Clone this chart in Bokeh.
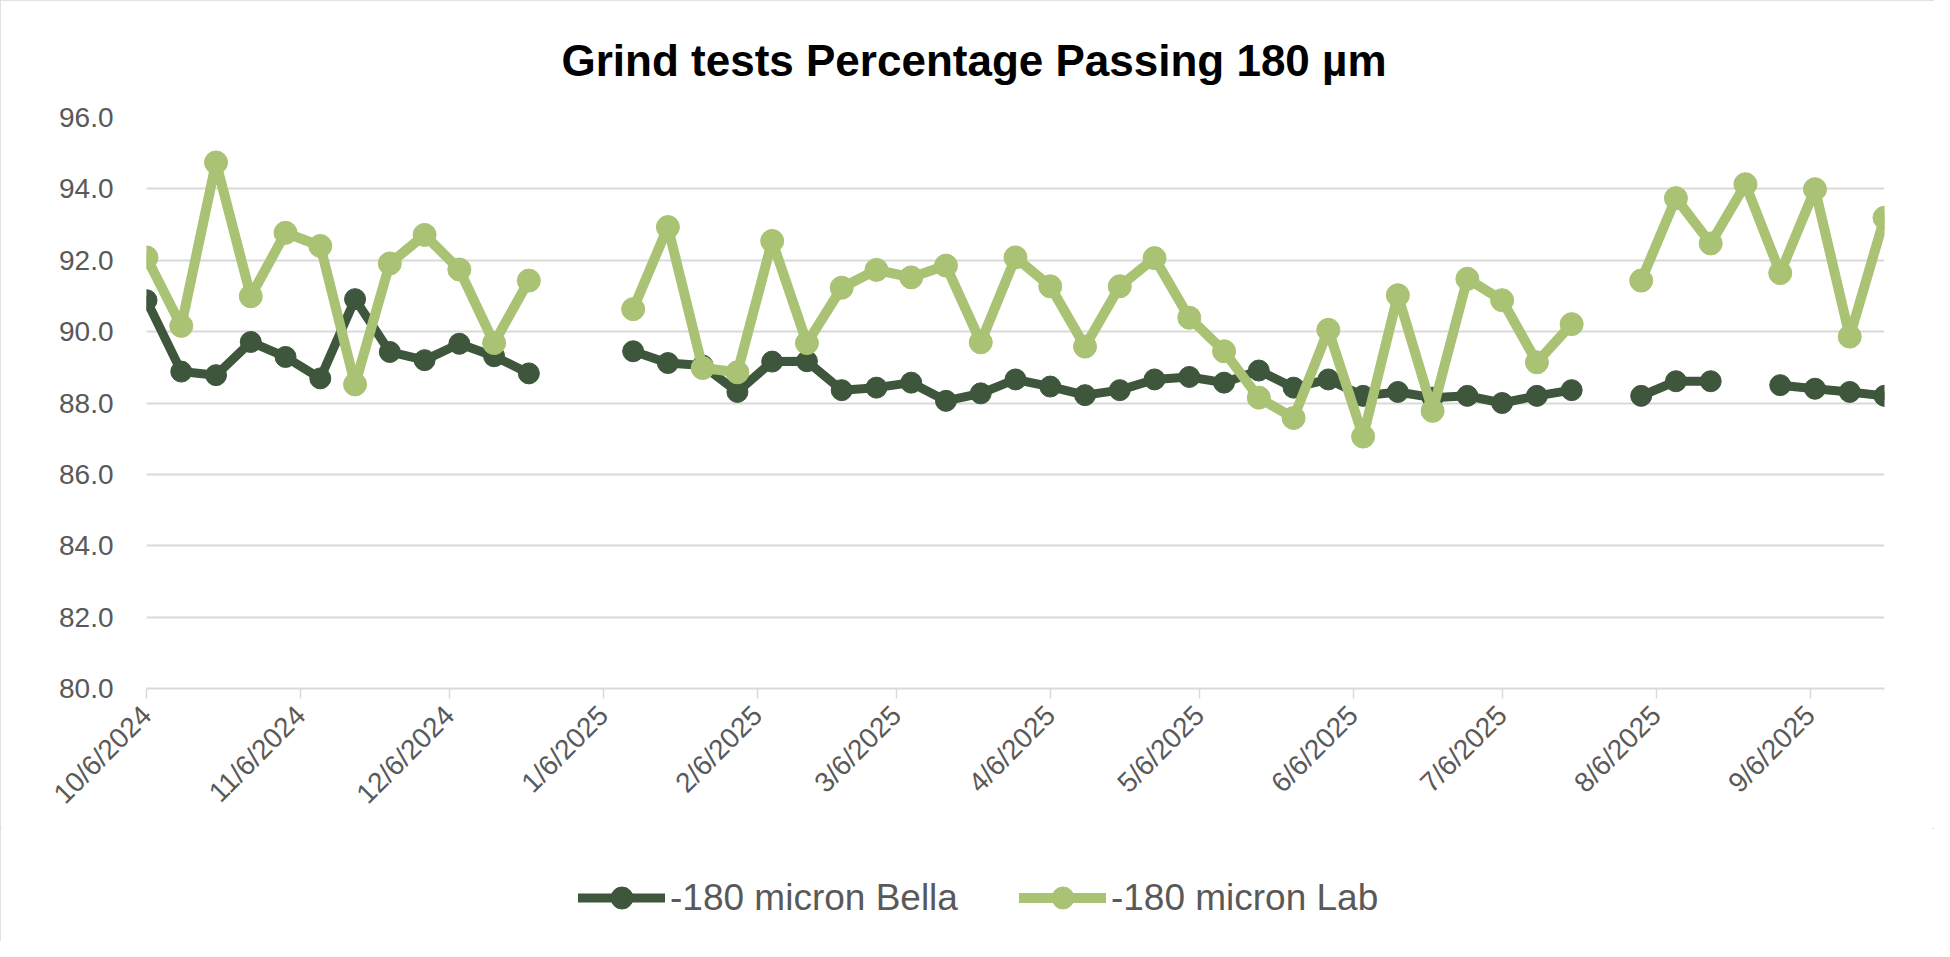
import math
import pandas as pd
from bokeh.plotting import figure
from bokeh.layouts import column
from bokeh.models import (Range1d, FixedTicker, PrintfTickFormatter, Legend, LegendItem)
from bokeh.embed import file_html
from bokeh.resources import INLINE

# ---------------- data ----------------
dates = [
    "2024-10-06", "2024-10-13", "2024-10-20", "2024-10-27", "2024-11-03", "2024-11-10",
    "2024-11-17", "2024-11-24", "2024-12-01", "2024-12-08", "2024-12-15", "2024-12-22",
    "2024-12-29", "2025-01-05", "2025-01-12", "2025-01-19", "2025-01-26", "2025-02-02",
    "2025-02-09", "2025-02-16", "2025-02-23", "2025-03-02", "2025-03-09", "2025-03-16",
    "2025-03-23", "2025-03-30", "2025-04-06", "2025-04-13", "2025-04-20", "2025-04-27",
    "2025-05-04", "2025-05-11", "2025-05-18", "2025-05-25", "2025-06-01", "2025-06-08",
    "2025-06-15", "2025-06-22", "2025-06-29", "2025-07-06", "2025-07-13", "2025-07-20",
    "2025-07-27", "2025-08-03", "2025-08-10", "2025-08-17", "2025-08-24", "2025-08-31",
    "2025-09-07", "2025-09-14", "2025-09-21",
]
N = float("nan")
bella = [
    90.88, 88.88, 88.78, 89.71, 89.29, 88.69, 90.91, 89.43, 89.20, 89.66, 89.31, 88.83,
    N, N, 89.45, 89.12, 89.05, 88.31, 89.16, 89.17, 88.36, 88.43, 88.57, 88.06,
    88.27, 88.66, 88.46, 88.22, 88.36, 88.66, 88.73, 88.57, 88.91, 88.43, 88.66, 88.20,
    88.31, 88.15, 88.20, 88.00, 88.20, 88.36, N, 88.20, 88.61, 88.61, N, 88.50,
    88.40, 88.31, 88.20,
]
lab = [
    92.08, 90.16, 94.74, 90.99, 92.77, 92.40, 88.52, 91.91, 92.71, 91.74, 89.68, 91.43,
    N, N, 90.63, 92.93, 88.98, 88.86, 92.54, 89.68, 91.23, 91.73, 91.52, 91.85,
    89.70, 92.08, 91.27, 89.58, 91.27, 92.06, 90.39, 89.45, 88.15, 87.58, 90.05, 87.06,
    91.02, 87.78, 91.48, 90.88, 89.14, 90.21, N, 91.43, 93.74, 92.47, 94.13, 91.64,
    93.99, 89.86, 93.19,
]
tick_dates = ["2024-10-06", "2024-11-06", "2024-12-06", "2025-01-06", "2025-02-06", "2025-03-06",
              "2025-04-06", "2025-05-06", "2025-06-06", "2025-07-06", "2025-08-06", "2025-09-06"]
tick_labels = ["10/6/2024", "11/6/2024", "12/6/2024", "1/6/2025", "2/6/2025", "3/6/2025",
               "4/6/2025", "5/6/2025", "6/6/2025", "7/6/2025", "8/6/2025", "9/6/2025"]
y_ticks = [80, 82, 84, 86, 88, 90, 92, 94, 96]
series_names = ["-180 micron Bella", "-180 micron Lab"]
title_text = "Grind tests Percentage Passing 180 \u00b5m"

# ---------------- styling ----------------
BELLA_C = "#3D563C"
LAB_C = "#A9C273"
TEXT_C = "#595959"
GRID_C = "#D9D9D9"
FONT = "Liberation Sans"
BELLA_STYLE = dict(line=dict(line_color=BELLA_C, line_width=9, line_join="round", line_cap="round"),
                   dot=dict(marker="circle", size=21, fill_color=BELLA_C, line_color=BELLA_C))
LAB_STYLE = dict(line=dict(line_color=LAB_C, line_width=10, line_join="round", line_cap="round"),
                 dot=dict(marker="circle", size=23, fill_color=LAB_C, line_color=LAB_C))

x = pd.to_datetime(dates)

# ---------------- main chart ----------------
p = figure(width=1934, height=828, x_axis_type="datetime",
           output_backend="svg", toolbar_location=None,
           x_range=Range1d(pd.Timestamp(dates[0]), pd.Timestamp(dates[-1])),
           y_range=Range1d(80, 96),
           min_border_left=146, min_border_right=50,
           min_border_top=113, min_border_bottom=140)
p.outline_line_color = None
p.background_fill_color = "white"
p.border_fill_color = "white"

# title
p.title.text = title_text
p.title.align = "left"
p.title.offset = 415
p.title.standoff = 66
p.title.text_font = FONT
p.title.text_font_size = "44px"
p.title.text_font_style = "bold"
p.title.text_color = "black"

# grid
p.xgrid.grid_line_color = None
p.ygrid.grid_line_color = GRID_C
p.ygrid.grid_line_width = 2
p.ygrid.ticker = FixedTicker(ticks=y_ticks)

# y axis
p.yaxis.ticker = FixedTicker(ticks=y_ticks)
p.yaxis.formatter = PrintfTickFormatter(format="%.1f")
p.yaxis.axis_line_color = None
p.yaxis.major_tick_line_color = None
p.yaxis.minor_tick_line_color = None
p.yaxis.major_label_standoff = 27
p.yaxis.major_label_text_font = FONT
p.yaxis.major_label_text_font_size = "28px"
p.yaxis.major_label_text_color = TEXT_C

# x axis
tick_ms = [int(pd.Timestamp(d).value // 10**6) for d in tick_dates]
p.xaxis.ticker = FixedTicker(ticks=tick_ms)
p.xaxis.major_label_overrides = {t: l for t, l in zip(tick_ms, tick_labels)}
p.xaxis.major_label_orientation = math.pi / 4
p.xaxis.axis_line_color = GRID_C
p.xaxis.axis_line_width = 2
p.xaxis.major_tick_line_color = GRID_C
p.xaxis.major_tick_line_width = 1.5
p.xaxis.major_tick_in = 0
p.xaxis.major_tick_out = 10
p.xaxis.minor_tick_line_color = None
p.xaxis.major_label_standoff = 12
p.xaxis.major_label_text_font = FONT
p.xaxis.major_label_text_font_size = "28px"
p.xaxis.major_label_text_color = TEXT_C

# series (Bella first, Lab on top)
p.line(x, bella, **BELLA_STYLE["line"])
p.scatter(x, bella, **BELLA_STYLE["dot"])
p.line(x, lab, **LAB_STYLE["line"])
p.scatter(x, lab, **LAB_STYLE["dot"])

# ---------------- legend strip ----------------
lg = figure(width=1934, height=113, output_backend="svg", toolbar_location=None,
            x_range=Range1d(0, 1), y_range=Range1d(0, 1),
            x_axis_location=None, y_axis_location=None,
            min_border=0, min_border_left=0, min_border_right=0,
            min_border_top=0, min_border_bottom=0)
lg.grid.visible = False
lg.outline_line_color = None
lg.background_fill_color = "white"
lg.border_fill_color = "white"
# proxy renderers (no visible data) used only for the legend swatches
bl = lg.line([N], [N], **BELLA_STYLE["line"])
bs = lg.scatter([N], [N], **BELLA_STYLE["dot"])
ll = lg.line([N], [N], **LAB_STYLE["line"])
ls = lg.scatter([N], [N], **LAB_STYLE["dot"])

legend = Legend(items=[LegendItem(label=series_names[0], renderers=[bl, bs]),
                       LegendItem(label=series_names[1], renderers=[ll, ls])],
                orientation="horizontal", location=(432, 16),
                glyph_width=87, glyph_height=55, label_standoff=5, spacing=61,
                padding=0, margin=0, border_line_alpha=0, background_fill_alpha=0,
                label_text_font=FONT, label_text_font_size="37px",
                label_text_color=TEXT_C)
lg.add_layout(legend)

layout = column(p, lg, spacing=0)
layout.styles = {"outline": "2px solid #D9D9D9", "outline-offset": "-2px"}

open("out.html", "w").write(file_html(layout, INLINE))
